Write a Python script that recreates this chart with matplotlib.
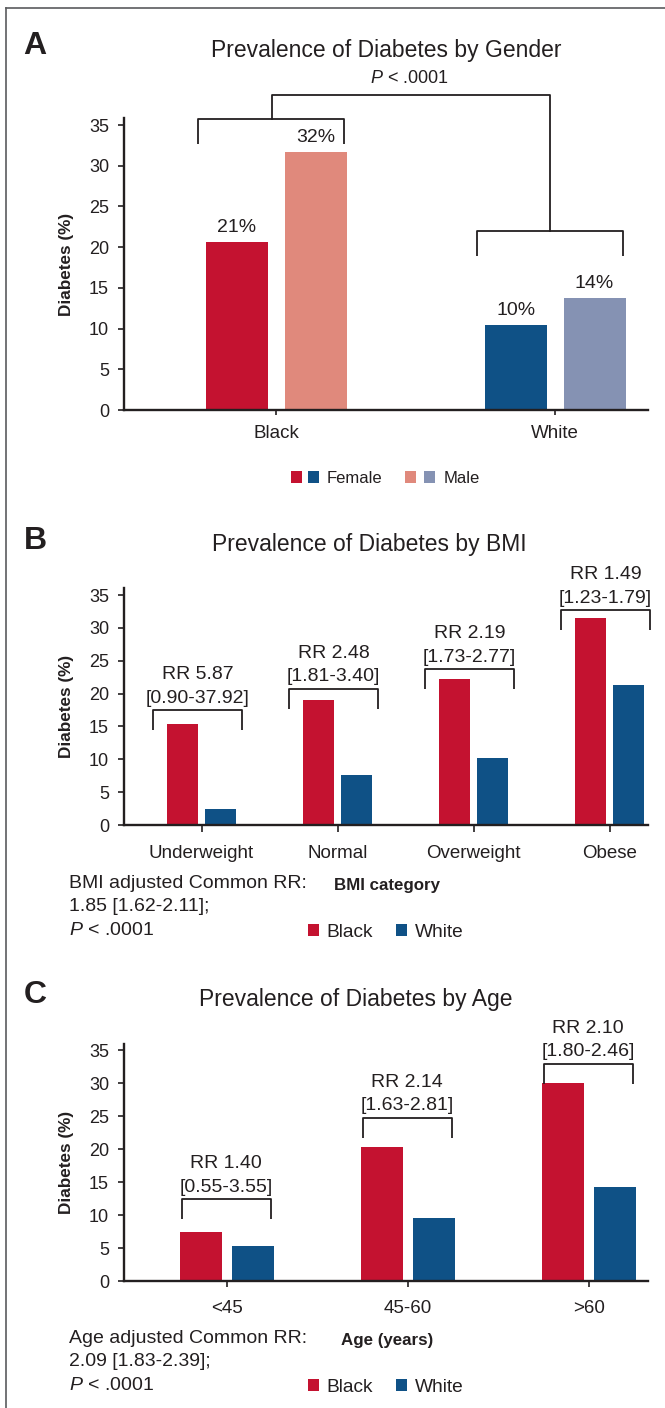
import matplotlib
matplotlib.use('Agg')
import matplotlib.pyplot as plt
from matplotlib.patches import Rectangle
from matplotlib.lines import Line2D

# ---------------- data ----------------
gender_groups = ['Black', 'White']
gender_female = [20.6, 10.4]
gender_male = [31.7, 13.8]
gender_p = '$P$ < .0001'

bmi_categories = ['Underweight', 'Normal', 'Overweight', 'Obese']
bmi_black = [15.3, 19.0, 22.2, 31.5]
bmi_white = [2.5, 7.6, 10.2, 21.3]
bmi_rr = ['RR 5.87', 'RR 2.48', 'RR 2.19', 'RR 1.49']
bmi_ci = ['[0.90-37.92]', '[1.81-3.40]', '[1.73-2.77]', '[1.23-1.79]']
bmi_bracket_level = [17.5, 20.7, 23.7, 32.7]
bmi_common = ['BMI adjusted Common RR:', '1.85 [1.62-2.11];', '$P$ < .0001']

age_categories = ['<45', '45-60', '>60']
age_black = [7.4, 20.3, 30.0]
age_white = [5.3, 9.5, 14.2]
age_rr = ['RR 1.40', 'RR 2.14', 'RR 2.10']
age_ci = ['[0.55-3.55]', '[1.63-2.81]', '[1.80-2.46]']
age_bracket_level = [12.4, 24.7, 32.9]
age_common = ['Age adjusted Common RR:', '2.09 [1.83-2.39];', '$P$ < .0001']

yticks = [0, 5, 10, 15, 20, 25, 30, 35]

# ---------------- style ----------------
RED = '#C41230'
PINK = '#E0897C'
BLUE = '#0F5186'
GREYBLUE = '#8592B3'
TXT = '#231F20'
FRAME = '#5A5B5D'

plt.rcParams['font.family'] = ['Liberation Sans', 'DejaVu Sans']
plt.rcParams['mathtext.fontset'] = 'custom'
plt.rcParams['mathtext.rm'] = 'Liberation Sans'
plt.rcParams['mathtext.it'] = 'Liberation Sans:italic'
plt.rcParams['text.color'] = TXT

W, H = 665, 1408
fig = plt.figure(figsize=(W / 100, H / 100), dpi=100)
fig.patch.set_facecolor('white')


def fx(x):
    return x / W


def fy(y):
    return 1 - y / H


def pt2px(s):
    return s * 100 / 72


def ftext(x, yc, s, size, ha='left', **kw):
    base = yc + 0.358 * pt2px(size)
    return fig.text(fx(x), fy(base), s, fontsize=size, ha=ha, va='baseline',
                    color=TXT, **kw)


def square(x0, x1, yc, color, h=12):
    fig.add_artist(Rectangle((fx(x0), fy(yc + h / 2)), (x1 - x0) / W, h / H,
                             transform=fig.transFigure, facecolor=color,
                             edgecolor='none'))


def make_axes(top, bottom, xlim, ytop, xtick_len, xpad):
    ax = fig.add_axes([fx(124), fy(bottom), 524 / W, (bottom - top) / H])
    ax.set_xlim(*xlim)
    ax.set_ylim(0, ytop)
    for s in ['top', 'right']:
        ax.spines[s].set_visible(False)
    for s in ['left', 'bottom']:
        ax.spines[s].set_linewidth(1.7)
        ax.spines[s].set_color(TXT)
    ax.set_yticks(yticks)
    ax.tick_params(axis='y', direction='out', length=4.5, width=1.2,
                   pad=6.3, labelsize=13, colors=TXT)
    ax.tick_params(axis='x', direction='out', length=xtick_len, width=1.2,
                   pad=xpad, labelsize=13.5, colors=TXT)
    ax.patch.set_alpha(0)
    fig.text(fx(66), fy((top + bottom) / 2), 'Diabetes (%)', rotation=90,
             ha='center', va='center', fontsize=12.3, fontweight='bold',
             color=TXT)
    return ax


def bracket(ax, x0, x1, top, leg=3.05):
    ax.plot([x0, x0, x1, x1], [top - leg, top, top, top - leg], color=TXT,
            lw=1.3, clip_on=False, solid_joinstyle='round',
            solid_capstyle='butt')


def rr_text(ax, xc, top, rr, ci):
    ax.annotate(ci, xy=(xc, top), xytext=(0, 7.5), textcoords='offset pixels',
                ha='center', va='baseline', fontsize=14, color=TXT,
                annotation_clip=False)
    ax.annotate(rr, xy=(xc, top), xytext=(0, 31), textcoords='offset pixels',
                ha='center', va='baseline', fontsize=14, color=TXT,
                annotation_clip=False)


# frame
fig.add_artist(Line2D([fx(6), fx(6)], [fy(8), 0], transform=fig.transFigure,
                      color=FRAME, lw=1.2))
fig.add_artist(Line2D([fx(6), 1], [fy(8), fy(8)], transform=fig.transFigure,
                      color=FRAME, lw=1.2))

# ================= Panel A =================
axA = make_axes(118, 410, (-0.545, 1.333), 35.86, 3.6, 7.2)
xa = list(range(len(gender_groups)))
off, bw = 0.1416, 0.222
axA.bar([x - off for x in xa], gender_female, bw, color=[RED, BLUE])
axA.bar([x + off for x in xa], gender_male, bw, color=[PINK, GREYBLUE])
axA.set_xticks(xa)
axA.set_xticklabels(gender_groups)
for x, v in zip(xa, gender_female):
    axA.annotate(f'{v:.0f}%', xy=(x - off, v), xytext=(0, 10),
                 textcoords='offset pixels', ha='center', va='baseline',
                 fontsize=14, color=TXT)
for x, v in zip(xa, gender_male):
    axA.annotate(f'{v:.0f}%', xy=(x + off, v), xytext=(0, 10),
                 textcoords='offset pixels', ha='center', va='baseline',
                 fontsize=14, color=TXT)
a_levels = [35.74, 22.0]
for x, lev in zip(xa, a_levels):
    bracket(axA, x - 0.28, x + 0.245, lev)
axA.plot([xa[0] - 0.015, xa[0] - 0.015, xa[1] - 0.018, xa[1] - 0.018],
         [a_levels[0], 38.7, 38.7, a_levels[1]], color=TXT, lw=1.3,
         clip_on=False)

ftext(35, 42.5, 'A', 23, ha='center', fontweight='bold')
ftext(211, 48.3, 'Prevalence of Diabetes by Gender', 16.5)
ftext(409, 77, gender_p, 13, ha='center')

square(291, 302, 477, RED)
square(308, 319, 477, BLUE)
ftext(327, 477, 'Female', 12)
square(405, 416, 477, PINK)
square(424, 435, 477, GREYBLUE)
ftext(444, 477, 'Male', 12)

# ================= Panel B =================
axB = make_axes(588, 825, (-0.570, 3.283), 36.07, 5, 9.4)
xb = list(range(len(bmi_categories)))
off, bw = 0.14, 0.228
axB.bar([x - off for x in xb], bmi_black, bw, color=RED)
axB.bar([x + off for x in xb], bmi_white, bw, color=BLUE)
axB.set_xticks(xb)
axB.set_xticklabels(bmi_categories)
for x, lev, rr, ci in zip(xb, bmi_bracket_level, bmi_rr, bmi_ci):
    c = x - 0.03
    bracket(axB, c - 0.33, c + 0.33, lev)
    rr_text(axB, c, lev, rr, ci)

ftext(35, 537.5, 'B', 23, ha='center', fontweight='bold')
ftext(212, 543, 'Prevalence of Diabetes by BMI', 16.5)
for i, line in enumerate(bmi_common):
    ftext(69, 881 + 23.5 * i, line, 14)
ftext(387, 884, 'BMI category', 12.2, ha='center', fontweight='bold')
square(307.5, 318.5, 930, RED)
ftext(326, 930, 'Black', 13.8)
square(396, 407, 930, BLUE)
ftext(415, 930, 'White', 13.8)

# ================= Panel C =================
axC = make_axes(1044, 1281, (-0.569, 2.326), 35.91, 4.3, 9.4)
xc = list(range(len(age_categories)))
off, bw = 0.142, 0.23
axC.bar([x - off for x in xc], age_black, bw, color=RED)
axC.bar([x + off for x in xc], age_white, bw, color=BLUE)
axC.set_xticks(xc)
axC.set_xticklabels(age_categories)
for x, lev, rr, ci in zip(xc, age_bracket_level, age_rr, age_ci):
    c = x - 0.005
    bracket(axC, c - 0.246, c + 0.246, lev)
    rr_text(axC, c, lev, rr, ci)

ftext(35, 991.5, 'C', 23, ha='center', fontweight='bold')
ftext(199, 998, 'Prevalence of Diabetes by Age', 16.5)
for i, line in enumerate(age_common):
    ftext(69, 1336 + 23.5 * i, line, 14)
ftext(387, 1339, 'Age (years)', 12.2, ha='center', fontweight='bold')
square(307.5, 318.5, 1385, RED)
ftext(326, 1385, 'Black', 13.8)
square(396, 407, 1385, BLUE)
ftext(415, 1385, 'White', 13.8)

fig.savefig('out.png', dpi=100, facecolor='white')
